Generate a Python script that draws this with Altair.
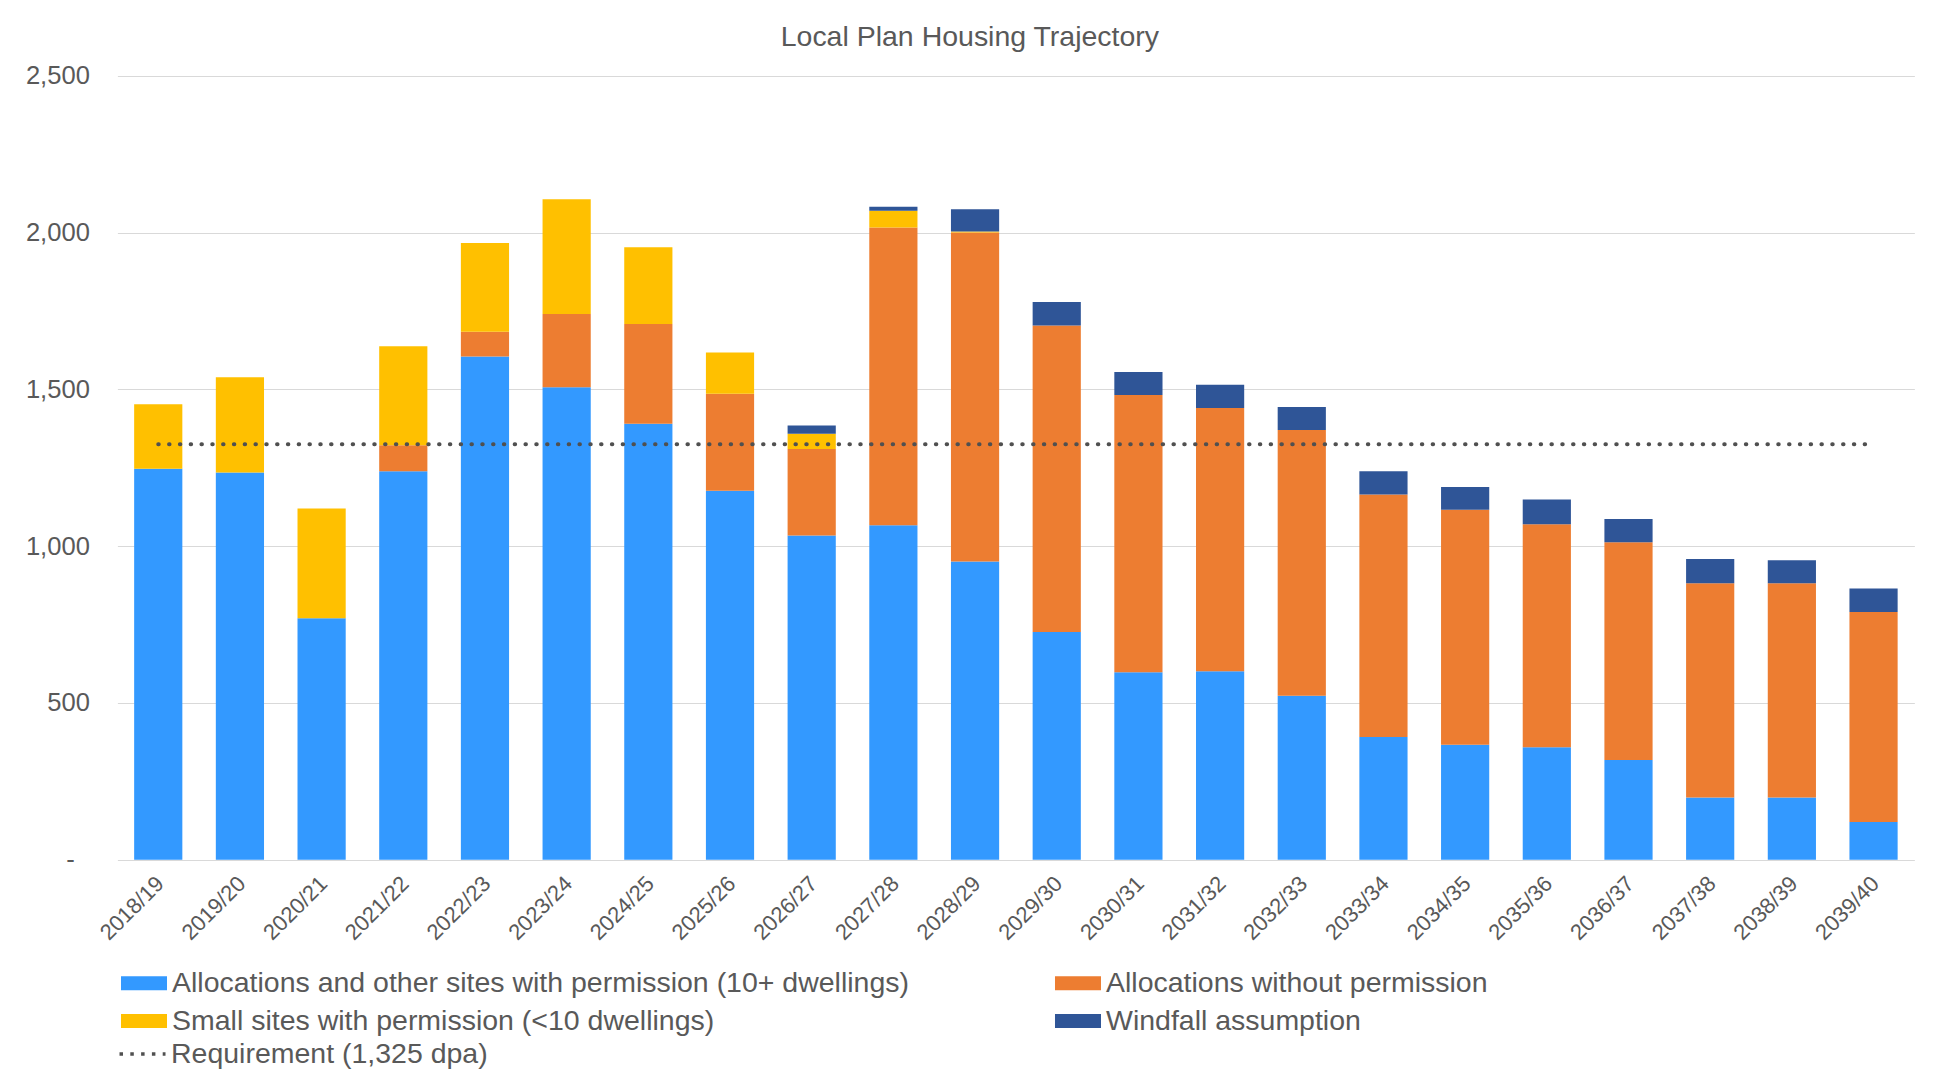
import altair as alt
import pandas as pd

years = ["2018/19", "2019/20", "2020/21", "2021/22", "2022/23", "2023/24", "2024/25",
         "2025/26", "2026/27", "2027/28", "2028/29", "2029/30", "2030/31", "2031/32",
         "2032/33", "2033/34", "2034/35", "2035/36", "2036/37", "2037/38", "2038/39", "2039/40"]

alloc_perm = [1247, 1235, 770, 1239, 1605, 1507, 1391, 1177, 1034, 1067, 951,
              726, 598, 601, 523, 391, 367, 359, 318, 198, 198, 120]
alloc_noperm = [0, 0, 0, 83, 79, 234, 318, 309, 276, 950, 1050,
                978, 884, 840, 848, 774, 749, 711, 695, 684, 684, 670]
small_sites = [206, 304, 350, 316, 283, 366, 245, 132, 49, 53, 3,
               0, 0, 0, 0, 0, 0, 0, 0, 0, 0, 0]
windfall = [0, 0, 0, 0, 0, 0, 0, 0, 26, 13, 71,
            75, 74, 74, 73, 74, 73, 79, 74, 77, 73, 75]
requirement = [1325] * len(years)

# stacking order (bottom to top)
series_names = ["Allocations and other sites with permission (10+ dwellings)",
                "Allocations without permission",
                "Small sites with permission (<10 dwellings)",
                "Windfall assumption"]
series_colors = ["#3399FF", "#ED7D31", "#FFC000", "#2F5597"]
# legend order (column-major in a 2-column legend)
legend_order = [0, 2, 1, 3]
req_name = "Requirement (1,325 dpa)"
y_ticks = [0, 500, 1000, 1500, 2000, 2500]

TEXT = "#595959"
FONT = "Liberation Sans"

rows = []
for i, yr in enumerate(years):
    for k, vals in enumerate([alloc_perm, alloc_noperm, small_sites, windfall]):
        if vals[i] > 0:
            rows.append({"year": yr, "series": series_names[k], "order": k, "value": vals[i]})
bars_df = pd.DataFrame(rows)
req_df = pd.DataFrame({"year": years, "value": requirement, "series": req_name})

x_enc = alt.X(
    "year:N", sort=years,
    scale=alt.Scale(paddingInner=0.41, paddingOuter=0.205),
    axis=alt.Axis(title=None, labelAngle=-45, labelAlign="right", labelBaseline="middle",
                  labelPadding=20, labelOffset=2, labelFontSize=22, labelColor=TEXT,
                  labelFont=FONT, ticks=False, domain=False, grid=False, labelOverlap=False),
)
y_enc = alt.Y(
    "value:Q", stack="zero",
    scale=alt.Scale(domain=[0, 2500], nice=False),
    axis=alt.Axis(title=None, values=y_ticks, ticks=False, domain=False,
                  labelExpr="datum.value == 0 ? '-' : format(datum.value, ',')",
                  labelFontSize=25.6, labelColor=TEXT, labelFont=FONT,
                  labelPadding={"condition": {"test": "datum.value === 0", "value": 43}, "value": 28},
                  gridColor="#D9D9D9", gridWidth=1),
)

bars = alt.Chart(bars_df).mark_bar().encode(
    x=x_enc,
    y=y_enc,
    fill=alt.Fill("series:N",
                  scale=alt.Scale(domain=[series_names[k] for k in legend_order],
                                  range=[series_colors[k] for k in legend_order]),
                  legend=alt.Legend(title=None, orient="none", legendX=3.6, legendY=884,
                                    columns=2, columnPadding=145, rowPadding=-5.5,
                                    symbolType="M-1,-0.3L1,-0.3L1,0.3L-1,0.3Z",
                                    symbolSize=2116, symbolStrokeWidth=0, symbolOpacity=1,
                                    labelFontSize=28.5, labelColor=TEXT, labelFont=FONT,
                                    labelOffset=5, labelLimit=2000, padding=0)),
    order=alt.Order("order:Q", sort="ascending"),
)

line = alt.Chart(req_df).mark_line(strokeDash=[0.5, 10.3], strokeWidth=4, strokeCap="round").encode(
    x=alt.X("year:N", sort=years),
    y=alt.Y("value:Q"),
    stroke=alt.Stroke("series:N",
                      scale=alt.Scale(domain=[req_name], range=["#505050"]),
                      legend=alt.Legend(title=None, orient="none", legendX=0.1, legendY=953,
                                        symbolType="stroke", symbolSize=2116,
                                        symbolStrokeWidth=3.5, symbolDash=[3.5, 7.3],
                                        labelFontSize=28.5, labelColor=TEXT, labelFont=FONT,
                                        labelOffset=3.5, labelLimit=2000, padding=0)),
)

chart = alt.layer(bars, line).properties(
    width=1797,
    height=783.7,
    padding={"left": 109.4, "top": 68, "right": 3, "bottom": 212},
    autosize=alt.AutoSizeParams(type="none"),
    title=alt.Title("Local Plan Housing Trajectory", fontSize=28.5, font=FONT,
                    fontWeight="normal", color=TEXT, anchor="middle", dx=-46, offset=12),
).configure(font=FONT).configure_view(stroke=None)

chart.save("out.html", embed_options={"renderer": "svg", "actions": False})
